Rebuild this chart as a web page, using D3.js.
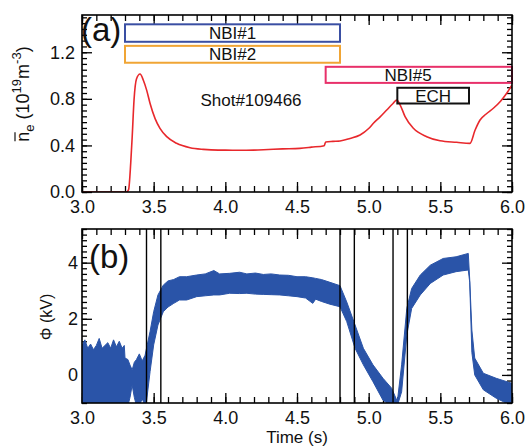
<!DOCTYPE html>
<html>
<head>
<meta charset="utf-8">
<script src="https://cdn.jsdelivr.net/npm/d3@7"></script>
<style>
  html, body { margin: 0; padding: 0; background: #fff; }
  svg { display: block; font-family: "Liberation Sans", Arial, sans-serif; }
</style>
</head>
<body>
<svg id="chart" width="525" height="447"></svg>
<script>
// Line-averaged density (10^19 m^-3) versus time (s)
const neTime = [3.0, 3.31, 3.325, 3.34, 3.35, 3.363, 3.38, 3.405, 3.428, 3.451, 3.475, 3.51, 3.544,
  3.591, 3.66, 3.754, 3.847, 3.95, 4.0, 4.1, 4.2, 4.3, 4.4, 4.52, 4.6, 4.69, 4.70, 4.75, 4.8,
  4.87, 4.94, 5.0, 5.033, 5.08, 5.126, 5.17, 5.196, 5.22, 5.254, 5.312, 5.405, 5.498, 5.614, 5.707,
  5.742, 5.777, 5.82, 5.87, 5.92, 5.963, 6.0];
const neValue = [0, 0, 0.02, 0.25, 0.47, 0.79, 0.97, 1.013, 0.96, 0.875, 0.76, 0.63, 0.546,
  0.475, 0.418, 0.38, 0.366, 0.36, 0.36, 0.358, 0.36, 0.365, 0.37, 0.375, 0.385, 0.398, 0.43, 0.435, 0.438,
  0.46, 0.49, 0.545, 0.59, 0.645, 0.704, 0.76, 0.79, 0.747, 0.647, 0.547, 0.475, 0.44, 0.427, 0.418,
  0.53, 0.618, 0.67, 0.719, 0.78, 0.848, 0.919];

// Heating windows (start/end time, box top/bottom in density units)
const heatName  = ["NBI#1", "NBI#2", "NBI#5", "ECH"];
const heatStart = [3.3, 3.3, 4.7, 5.2];
const heatEnd   = [4.8, 4.8, 6.0, 5.7];
const heatTop   = [1.44, 1.255, 1.075, 0.895];
const heatBot   = [1.29, 1.11, 0.937, 0.76];
const heatLabelAt = [4.05, 4.05, 5.275, 5.45];
const heatColor = ["#3a4fa3", "#f0a535", "#e8306a", "#111111"];

// Potential Φ (kV): envelope of the fluctuating signal
const phiTime = [3.00, 3.02, 3.04, 3.06, 3.08, 3.10, 3.12, 3.14, 3.16, 3.18, 3.20, 3.22, 3.24, 3.26, 3.28,
  3.295, 3.30, 3.32, 3.335, 3.35, 3.365, 3.38, 3.40, 3.42, 3.44, 3.45, 3.475, 3.50, 3.53, 3.567, 3.60, 3.64,
  3.68, 3.73, 3.80, 3.86, 3.92, 3.96, 4.03, 4.10, 4.15, 4.21, 4.265, 4.32, 4.38, 4.44, 4.50, 4.56,
  4.61, 4.63, 4.67, 4.73, 4.80, 4.847, 4.905, 4.963, 5.03, 5.10, 5.16, 5.20, 5.23, 5.266, 5.30, 5.36,
  5.43, 5.52, 5.61, 5.695, 5.705, 5.72, 5.74, 5.80, 5.89, 6.00];
const phiUpper = [1.05, 1.25, 0.95, 1.10, 0.90, 1.05, 1.30, 0.95, 1.05, 1.15, 0.95, 1.25, 1.00, 1.20, 0.95,
  1.05, 0.60, 0.55, 0.35, 0.18, 0.45, 0.55, 0.75, 0.50, 0.70, 0.95, 1.55, 2.25, 2.85, 3.20, 3.35, 3.40,
  3.50, 3.50, 3.56, 3.60, 3.72, 3.60, 3.62, 3.66, 3.60, 3.63, 3.58, 3.60, 3.56, 3.55, 3.50, 3.50,
  3.46, 3.44, 3.40, 3.30, 3.18, 2.60, 1.78, 0.95, 0.36, -0.12, -0.47, -0.95, 0.36, 2.37, 3.08, 3.56,
  3.91, 4.15, 4.21, 4.33, 3.40, 1.60, 0.60, 0.06, -0.12, -0.30];
const phiLower = [-1.1, -1.1, -1.1, -1.1, -1.1, -1.1, -1.1, -1.1, -1.1, -1.1, -1.1, -1.1, -1.1, -1.1, -1.1,
  -1.1, -1.1, -1.1, -0.80, -0.36, -0.80, -1.1, -1.1, -0.85, -1.1, -0.95, 0.12, 1.07, 1.78, 2.25, 2.42, 2.55,
  2.67, 2.67, 2.79, 2.82, 2.85, 2.85, 2.91, 2.90, 2.91, 2.88, 2.87, 2.86, 2.85, 2.82, 2.79, 2.74,
  2.55, 2.70, 2.62, 2.52, 2.43, 1.90, 0.95, 0.36, -0.24, -0.90, -1.1, -1.1, -0.60, 1.42, 2.37, 2.85,
  3.26, 3.56, 3.68, 3.74, 3.30, 0.80, 0.00, -0.53, -0.83, -1.1];

// Marker times drawn as vertical lines in panel (b)
const markerTimes = [3.45, 3.55, 4.8, 4.9, 5.17, 5.27];

// Tick values
const timeTicks = [3.0, 3.5, 4.0, 4.5, 5.0, 5.5, 6.0];
const neTicks = [0.0, 0.4, 0.8, 1.2];
const phiTicks = [0, 2, 4];

const svg = d3.select("#chart");
const L = 82, R = 512;

const x = d3.scaleLinear().domain([3, 6]).range([L, R]);
const yA = d3.scaleLinear().domain([0, 1.52]).range([192, 15]);
const yB = d3.scaleLinear().domain([-1, 5.2]).range([403, 229]);

const minorTime = d3.range(30, 61).map(d => d / 10);

function frame(y, top, bottom, yMajor, yMinor, fmtY, labelPad, id) {
  const g = svg.append("g");
  // clip region for the data
  svg.append("clipPath").attr("id", id).append("rect")
    .attr("x", L).attr("y", top).attr("width", R - L).attr("height", bottom - top);

  const axes = [
    [d3.axisBottom(x).tickValues(minorTime).tickSize(-6).tickFormat(""), `translate(0,${bottom})`],
    [d3.axisBottom(x).tickValues(timeTicks).tickSize(-10).tickPadding(8).tickFormat(d3.format(".1f")), `translate(0,${bottom})`],
    [d3.axisTop(x).tickValues(minorTime).tickSize(-6).tickFormat(""), `translate(0,${top})`],
    [d3.axisTop(x).tickValues(timeTicks).tickSize(-10).tickFormat(""), `translate(0,${top})`],
    [d3.axisLeft(y).tickValues(yMinor).tickSize(-5).tickFormat(""), `translate(${L},0)`],
    [d3.axisLeft(y).tickValues(yMajor).tickSize(-10).tickPadding(labelPad).tickFormat(fmtY), `translate(${L},0)`],
    [d3.axisRight(y).tickValues(yMinor).tickSize(-5).tickFormat(""), `translate(${R},0)`],
    [d3.axisRight(y).tickValues(yMajor).tickSize(-10).tickFormat(""), `translate(${R},0)`]
  ];
  axes.forEach(([ax, tr]) => {
    const a = g.append("g").attr("transform", tr).call(ax);
    a.select(".domain").remove();
    a.selectAll("line").attr("stroke", "#000").attr("stroke-width", 1.3);
    a.selectAll("text").attr("font-size", 18).attr("fill", "#111")
      .attr("font-family", "'Liberation Sans', Arial, sans-serif");
  });
  return g;
}

// ---------- panel (a) ----------
const minorNe = d3.range(0, 31).map(d => d * 0.05);
frame(yA, 15, 192, neTicks, minorNe, d3.format(".1f"), 7, "clipA");

svg.append("path")
  .datum(neTime.map((t, i) => [t, neValue[i]]))
  .attr("clip-path", "url(#clipA)")
  .attr("fill", "none")
  .attr("stroke", "#e8282c")
  .attr("stroke-width", 1.6)
  .attr("stroke-linejoin", "round")
  .attr("d", d3.line().x(d => x(d[0])).y(d => yA(d[1])).curve(d3.curveMonotoneX));

heatName.forEach((name, i) => {
  svg.append("rect")
    .attr("x", x(heatStart[i])).attr("y", yA(heatTop[i]))
    .attr("width", x(heatEnd[i]) - x(heatStart[i]))
    .attr("height", yA(heatBot[i]) - yA(heatTop[i]))
    .attr("fill", "none").attr("stroke", heatColor[i]).attr("stroke-width", 2);
  svg.append("text")
    .attr("x", x(heatLabelAt[i]))
    .attr("y", (yA(heatTop[i]) + yA(heatBot[i])) / 2 + 6)
    .attr("text-anchor", "middle").attr("font-size", 17).attr("fill", "#111")
    .text(name);
});

svg.append("text").attr("x", 251).attr("y", 106)
  .attr("text-anchor", "middle").attr("font-size", 17).attr("fill", "#111")
  .text("Shot#109466");

svg.append("text").attr("x", 81).attr("y", 41)
  .attr("font-size", 33).attr("fill", "#111").text("(a)");

// y label of panel (a): n with an overbar, subscript e, units with superscripts
const labG = svg.append("g").attr("transform", "translate(29,94) rotate(-90)");
const labA = labG.append("text")
  .attr("text-anchor", "middle").attr("font-size", 18).attr("fill", "#111");
labA.append("tspan").text("n");
labA.append("tspan").attr("dy", 5).attr("font-size", 13).text("e");
labA.append("tspan").attr("dy", -5).text(" (10");
labA.append("tspan").attr("dy", -8).attr("font-size", 13).text("19");
labA.append("tspan").attr("dy", 8).text("m");
labA.append("tspan").attr("dy", -8).attr("font-size", 13).text("-3");
labA.append("tspan").attr("dy", 8).text(")");
const nBox = labA.node().getExtentOfChar(0);
labG.append("line")
  .attr("x1", nBox.x + 0.5).attr("x2", nBox.x + nBox.width - 0.5)
  .attr("y1", nBox.y + 2).attr("y2", nBox.y + 2)
  .attr("stroke", "#111").attr("stroke-width", 1.2);

// ---------- panel (b) ----------
const minorPhi = d3.range(-5, 27).map(d => d * 0.2);
frame(yB, 229, 403, phiTicks, minorPhi, d3.format("d"), 4, "clipB");

svg.append("path")
  .datum(phiTime.map((t, i) => [t, phiUpper[i], phiLower[i]]))
  .attr("clip-path", "url(#clipB)")
  .attr("fill", "#2a54a8")
  .attr("stroke", "#2a54a8")
  .attr("stroke-width", 1)
  .attr("d", d3.area().x(d => x(d[0])).y0(d => yB(d[2])).y1(d => yB(d[1])));

svg.append("g").selectAll("line").data(markerTimes).join("line")
  .attr("x1", d => x(d)).attr("x2", d => x(d))
  .attr("y1", 229).attr("y2", 403)
  .attr("stroke", "#000").attr("stroke-width", 1.4);

svg.append("text").attr("x", 89).attr("y", 268)
  .attr("font-size", 33).attr("fill", "#111").text("(b)");

svg.append("text")
  .attr("transform", "translate(52,317) rotate(-90)")
  .attr("text-anchor", "middle").attr("font-size", 16).attr("fill", "#111")
  .text("\u03A6 (kV)");

svg.append("text").attr("x", 297).attr("y", 443)
  .attr("text-anchor", "middle").attr("font-size", 17).attr("fill", "#111")
  .text("Time (s)");

// plot frames drawn last so they sit on top of the data
[[15, 192], [229, 403]].forEach(([t, b]) => {
  svg.append("rect").attr("x", L).attr("y", t).attr("width", R - L).attr("height", b - t)
    .attr("fill", "none").attr("stroke", "#000").attr("stroke-width", 1.6);
});
</script>
</body>
</html>
